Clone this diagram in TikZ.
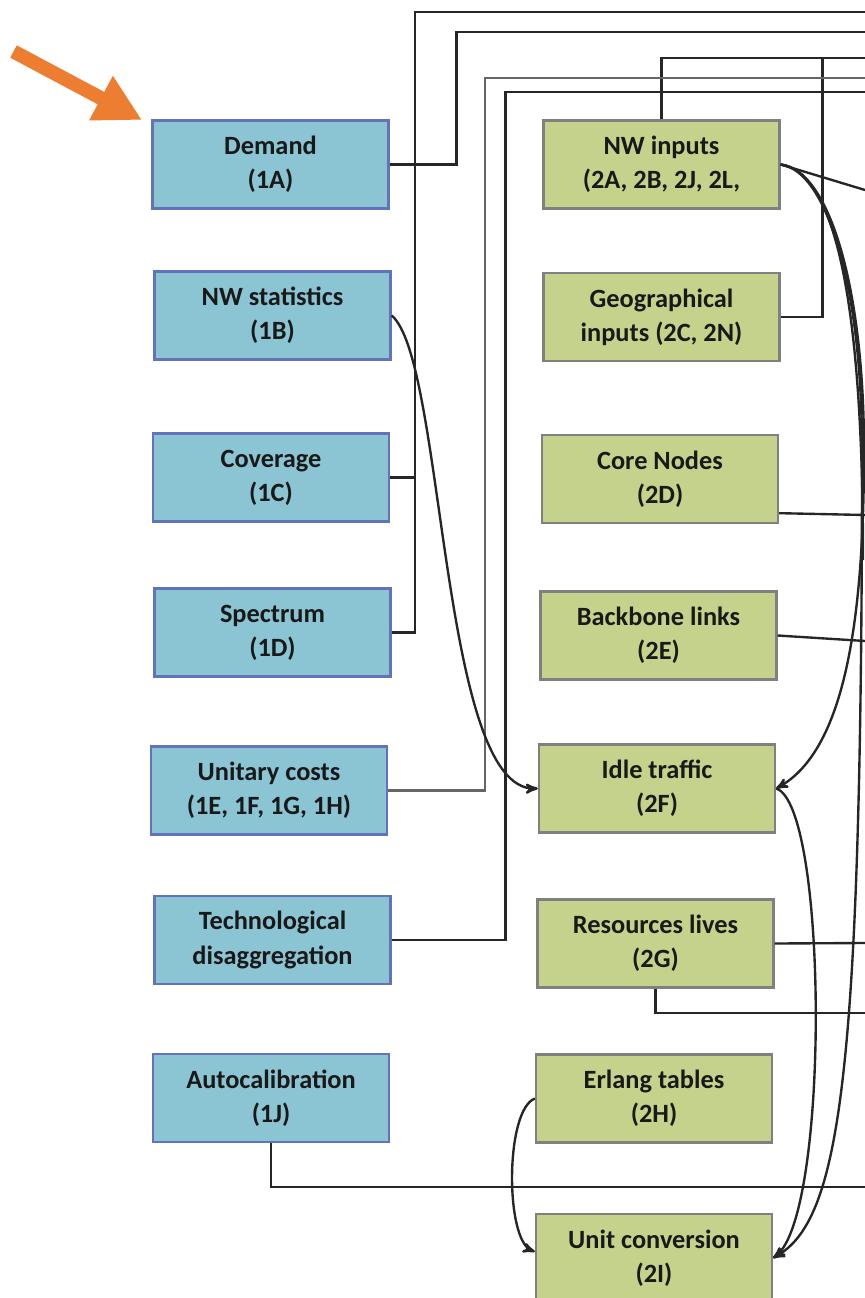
\documentclass[tikz,border=0pt]{standalone}
\usepackage{fontspec}
\setmainfont{Carlito}
\usetikzlibrary{arrows}
\usetikzlibrary{arrows.meta}
\usetikzlibrary{calc}

\definecolor{boxblue}{RGB}{139,196,210}
\definecolor{edgeblue}{RGB}{100,115,185}
\definecolor{boxgreen}{RGB}{196,210,139}
\definecolor{edgegray}{RGB}{128,128,128}
\definecolor{hintorange}{RGB}{237,125,49}

\begin{document}
\begin{tikzpicture}[x=0.02cm,y=-0.02cm,>=stealth',
  wire/.style={draw=black!85,line width=1.35pt},
  block/.style={rectangle,line width=1.35pt,align=center,minimum width=4.72cm,
    minimum height=1.76cm,inner sep=0pt,text=black!90,
    font=\fontsize{15}{19.5}\selectfont\bfseries},
  input node/.style={block,fill=boxblue,draw=edgeblue},
  param node/.style={block,fill=boxgreen,draw=edgegray},
  hint arrow/.style={draw=hintorange,line width=0.28cm,
    -{Triangle[length=0.93cm,width=0.94cm]}}]

  \useasboundingbox (0,0) rectangle (865,1298);

  % inputs column
  \node[input node] (demand)   at (270.5,164.5) {Demand\\(1A)};
  \node[input node] (nwstat)   at (272.5,315.5) {NW statistics\\(1B)};
  \node[input node] (coverage) at (271,477.5)   {Coverage\\(1C)};
  \node[input node] (spectrum) at (272.5,632.5) {Spectrum\\(1D)};
  \node[input node] (unitary)  at (269,790.5)   {Unitary costs\\(1E, 1F, 1G, 1H)};
  \node[input node] (techdis)  at (272.5,940)   {Technological\\disaggregation};
  \node[input node] (autocal)  at (271,1098)    {Autocalibration\\(1J)};

  % parameters column
  \node[param node] (nwin)     at (661.5,164.5) {NW inputs\\(2A, 2B, 2J, 2L,};
  \node[param node] (geo)      at (661.5,317)   {Geographical\\inputs (2C, 2N)};
  \node[param node] (core)     at (660,479)     {Core Nodes\\(2D)};
  \node[param node] (backbone) at (658.5,635.5) {Backbone links\\(2E)};
  \node[param node] (idle)     at (657,788.5)   {Idle traffic\\(2F)};
  \node[param node] (reslives) at (655.5,943.5) {Resources lives\\(2G)};
  \node[param node] (erlang)   at (654,1098.5)  {Erlang tables\\(2H)};
  \node[param node] (unitconv) at (654,1258)    {Unit conversion\\(2I)};

  % loose ends at the right border
  \coordinate (topA) at (865,12);
  \coordinate (topB) at (865,32);
  \coordinate (topC) at (865,58);
  \coordinate (topD) at (865,78);
  \coordinate (topE) at (865,92);
  \coordinate (outNW) at (865,190);
  \coordinate (outNWc) at (863,560);
  \coordinate (outCore) at (865,515);
  \coordinate (outBackbone) at (865,641);
  \coordinate (outRes) at (865,943);
  \coordinate (outResB) at (865,1013);
  \coordinate (outAuto) at (865,1187);

  % bus lines over the top
  \draw[wire] (coverage.east) -- ++(25,0) |- (topA);
  \draw[wire] (spectrum.east) -| ($(coverage.east)+(25,0)$);
  \draw[wire] (demand.east) -- ++(67,0) |- (topB);
  \draw[wire] (nwin.north) |- (topC);
  \draw[wire] (geo.east) -- ++(42,0) |- (topC);
  \draw[wire,draw=black!60] (unitary.east) -- ++(97,0) |- (topD);
  \draw[wire] (techdis.east) -- ++(114,0) |- (topE);

  % lines leaving to the right
  \draw[wire] (nwin.east) -- (outNW);
  \draw[wire] (core.-16) -- (outCore);
  \draw[wire] (backbone.east) -- (outBackbone);
  \draw[wire] (reslives.east) -- (outRes);
  \draw[wire] (reslives.south) |- (outResB);
  \draw[wire] (autocal.south) |- (outAuto);

  % curved links
  \draw[wire,->] (nwstat.east) .. controls (445,360) and (440,790) .. (idle.west);
  \draw[wire,->] (erlang.west) .. controls (505,1110) and (505,1240) .. (unitconv.177);
  \draw[wire,->] (idle.east) .. controls (828,805) and (830,1215) .. (unitconv.east);
  \draw[wire] (nwin.east) .. controls (835,172) and (863,300) .. (outNWc);
  \draw[wire,->] (nwin.east) .. controls (830,170) and (864,290) .. (864,450)
    .. controls (864,620) and (845,750) .. (idle.east);
  \draw[wire,->] (nwin.east) .. controls (825,170) and (862,280) .. (862,450)
    .. controls (862,1080) and (840,1220) .. (unitconv.east);

  % pointer
  \coordinate (hinttail) at (13.5,51.5);
  \coordinate (hinthead) at (142,120);
  \draw[hint arrow] (hinttail) -- (hinthead);

\end{tikzpicture}
\end{document}
